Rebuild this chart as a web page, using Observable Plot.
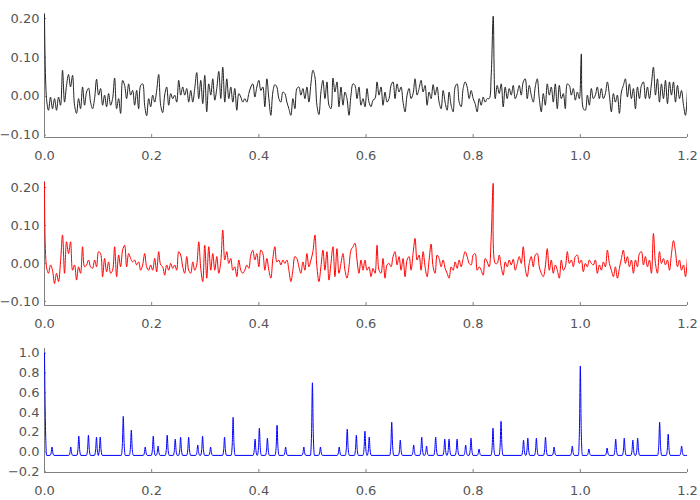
<!DOCTYPE html>
<html><head><meta charset="utf-8">
<script src="https://cdn.jsdelivr.net/npm/d3@7"></script>
<script src="https://cdn.jsdelivr.net/npm/@observablehq/plot@0.6"></script>
<style>
body{margin:0;background:#fff;}
#chart svg{display:block;}
</style></head><body><div id="chart"></div>
<script>
// x extent shared by all three panels
const xStart = 0, xEnd = 1.2;
const xTicks = [0, 0.2, 0.4, 0.6, 0.8, 1.0, 1.2];

// panel 1 (black) – evenly spaced samples over [0, 1.2]
const signalA = [
 0.210,-0.006,-0.036,-0.002,-0.032,-0.006,-0.036,-0.002,-0.023,0.067,
 -0.015,0.028,0.056,0.024,0.054,-0.023,-0.044,-0.006,-0.032,0.024,
 -0.023,0.011,0.021,-0.015,-0.032,-0.006,0.044,0.003,0.020,-0.023,
 0.003,-0.027,0.007,-0.023,-0.006,0.047,-0.032,-0.006,-0.044,0.041,
 0.028,-0.006,0.032,0.003,0.015,-0.023,0.015,-0.032,0.028,0.032,
 -0.023,-0.050,-0.006,-0.027,0.003,-0.015,0.015,0.056,-0.023,-0.042,
 0.003,0.024,-0.023,0.007,-0.006,0.003,-0.015,0.041,0.003,0.024,
 0.003,0.020,-0.015,0.015,-0.015,0.020,0.061,-0.006,0.041,-0.019,
 0.054,-0.040,0.032,0.003,0.045,-0.010,0.020,0.064,-0.006,0.075,
 -0.015,0.045,-0.006,0.024,-0.015,0.020,-0.036,0.007,
 -0.002,-0.015,-0.006,-0.015,0.007,0.024,0.032,-0.002,0.024,0.041,
 0.015,0.024,-0.027,0.045,-0.006,-0.049,0.011,0.030,0.024,-0.006,
 -0.015,0.011,0.007,-0.015,-0.032,-0.049,-0.006,-0.032,0.020,0.024,
 0.003,0.020,-0.006,0.024,-0.015,0.032,0.067,0.050,-0.023,-0.047,
 0.011,0.041,-0.006,0.037,-0.023,-0.032,0.047,0.011,0.037,-0.027,
 0.024,-0.023,0.011,-0.006,-0.049,0.003,0.032,0.028,-0.006,0.024,
 -0.023,-0.006,-0.027,0.020,-0.015,-0.027,-0.010,-0.006,0.037,0.003,
 0.024,-0.023,0.011,-0.015,-0.006,0.028,0.037,-0.006,0.032,0.011,
 0.024,-0.015,-0.040,0.003,0.020,-0.006,0.007,0.045,0.003,0.020,
 0.041,0.011,0.028,-0.023,0.011,-0.006,0.030,0.003,0.024,-0.015,
 -0.032,0.015,-0.015,-0.036,0.011,-0.023,-0.040,0.024,0.032,-0.015,
 -0.027,0.020,0.037,0.024,-0.006,
 0.015,-0.006,-0.019,-0.040,-0.006,-0.023,-0.002,-0.015,-0.006,-0.006,
 0.054,0.206,-0.006,0.028,0.007,0.032,-0.027,0.024,-0.006,0.020,
 0.003,0.028,-0.006,0.007,0.028,0.003,0.037,0.045,-0.006,0.028,
 0.003,-0.015,0.024,0.045,-0.006,-0.040,0.007,-0.023,0.032,0.003,
 0.024,-0.015,0.032,-0.032,0.028,-0.006,0.007,-0.032,0.032,0.028,
 0.003,0.020,-0.010,0.011,-0.006,0.109,-0.032,-0.036,0.003,-0.023,
 0.020,-0.006,0.003,0.024,-0.006,0.020,-0.006,0.007,0.037,0.003,
 -0.040,0.007,-0.015,0.003,-0.044,0.011,0.028,0.045,-0.002,0.032,
 -0.006,0.020,-0.032,0.024,-0.006,0.028,0.037,-0.006,0.024,-0.006,
 0.032,0.075,0.003,0.045,-0.015,0.032,-0.006,0.041,-0.019,0.037,
 0.003,0.037,-0.015,0.028,-0.006,0.015,-0.023,-0.049,0.020
];

// panel 2 (red) – evenly spaced samples over [0, 1.2]
const signalB = [
 0.213,-0.009,-0.026,-0.004,-0.018,-0.053,-0.026,-0.048,0.004,0.075,
 -0.026,0.057,0.026,0.057,-0.018,-0.004,-0.044,-0.009,-0.026,0.044,
 -0.009,-0.004,0.009,-0.009,-0.013,0.009,-0.009,0.031,0.026,-0.035,
 0.013,-0.022,0.004,-0.026,-0.018,0.044,-0.035,0.022,-0.009,0.035,
 0.048,-0.009,0.026,0.013,0.004,0.009,-0.004,0.004,-0.018,-0.004,
 0.026,-0.009,-0.018,-0.004,-0.018,0.013,-0.022,0.031,-0.004,-0.009,
 -0.031,-0.004,-0.018,0.000,-0.013,-0.004,-0.018,0.031,0.022,-0.009,
 -0.026,0.018,-0.018,-0.026,0.004,-0.018,-0.004,0.057,-0.013,-0.048,
 0.048,-0.039,0.044,-0.018,0.026,-0.018,0.018,-0.026,0.004,0.088,
 0.009,0.031,0.000,0.013,-0.018,-0.009,-0.035,0.009,
 -0.018,-0.026,-0.018,-0.004,-0.013,0.022,0.035,0.009,0.026,-0.009,
 0.035,0.026,-0.018,0.013,-0.018,-0.039,0.013,0.044,0.004,0.009,
 -0.004,0.009,0.000,0.009,-0.018,-0.048,-0.018,0.018,0.013,-0.009,
 -0.026,0.004,-0.018,0.026,-0.009,0.009,0.031,0.075,-0.009,-0.048,
 -0.009,0.035,-0.018,0.031,-0.044,0.000,0.044,-0.035,0.039,-0.026,
 0.000,0.026,-0.018,-0.039,-0.009,0.035,0.044,0.053,0.009,-0.026,
 0.009,-0.018,0.009,-0.018,-0.009,-0.035,-0.013,-0.026,0.048,-0.018,
 -0.026,0.013,-0.039,-0.004,0.000,-0.009,0.018,0.031,-0.004,0.018,
 -0.018,0.013,-0.035,0.009,0.018,-0.018,0.026,0.066,0.009,0.022,
 -0.018,0.031,-0.009,-0.035,0.009,0.051,-0.009,-0.026,0.022,0.013,
 -0.009,0.009,-0.013,-0.026,-0.039,-0.009,-0.018,0.004,-0.013,0.009,
 -0.009,0.013,0.031,0.018,0.000,
 -0.004,0.022,0.026,-0.018,-0.009,-0.018,-0.031,0.013,0.004,-0.009,
 0.070,0.211,0.000,0.000,0.022,-0.009,-0.031,0.004,-0.009,0.009,
 -0.004,0.011,-0.018,0.000,0.018,0.000,0.044,-0.013,-0.035,0.000,
 0.018,-0.009,0.022,0.026,-0.009,-0.026,-0.035,-0.009,0.039,-0.018,
 0.009,-0.026,-0.004,-0.018,-0.039,0.009,-0.018,-0.009,0.031,0.000,
 0.009,-0.009,0.018,0.022,0.000,0.009,-0.022,0.000,-0.009,0.009,
 0.000,-0.004,0.009,-0.026,-0.004,-0.018,0.004,-0.009,0.035,0.000,
 -0.018,-0.035,-0.009,-0.039,-0.013,0.013,0.035,0.000,0.018,-0.009,
 0.009,-0.026,0.009,-0.009,0.026,0.031,-0.004,0.018,-0.009,0.009,
 -0.026,0.079,0.000,-0.026,0.031,0.000,0.013,-0.004,0.009,-0.018,
 0.026,0.060,0.031,-0.009,0.009,-0.018,-0.004,-0.035,0.018
];

// panel 3 (blue) – spike train: start value, baseline, peak positions and heights
const spikeStart = 1.0;
const spikeBase = -0.035;
const peakX = [0.014,0.049,0.064,0.082,0.097,0.104,0.147,0.162,0.188,0.203,0.212,0.229,0.244,0.254,0.269,0.286,0.295,0.310,0.336,0.352,
 0.393,0.401,0.416,0.434,0.450,0.484,0.500,0.515,0.550,0.565,0.582,0.598,0.606,0.648,0.664,0.689,0.704,0.713,0.730,0.747,0.755,0.770,0.786,0.796,
 0.811,0.837,0.852,0.894,0.902,0.918,0.935,0.951,0.985,1.000,1.016,1.050,1.066,1.082,1.098,1.107,1.148,1.164,1.189];
const peakY = [0.05,0.05,0.16,0.17,0.15,0.15,0.36,0.22,0.05,0.16,0.06,0.17,0.13,0.15,0.15,0.07,0.16,0.05,0.15,0.35,
 0.13,0.24,0.14,0.27,0.05,0.05,0.70,0.05,0.05,0.23,0.17,0.21,0.15,0.30,0.12,0.07,0.15,0.06,0.15,0.13,0.13,0.13,0.07,0.14,
 0.03,0.24,0.31,0.12,0.14,0.14,0.15,0.05,0.06,0.87,0.03,0.04,0.13,0.14,0.12,0.14,0.30,0.18,0.06];

const yTicksAB = [-0.1, 0, 0.1, 0.2];
const yTicksC = [-0.2, 0, 0.2, 0.4, 0.6, 0.8, 1.0];

// build tables
const toSeries = arr => arr.map((y, i) => ({x: xStart + i * (xEnd - xStart) / (arr.length - 1), y}));
const seriesA = toSeries(signalA);
const seriesB = toSeries(signalB);
const seriesC = [{x: xStart, y: spikeStart}, {x: xStart + 0.0015, y: 0.35}, {x: xStart + 0.004, y: spikeBase}];
peakX.forEach((px, k) => {
  const h = peakY[k], mid = spikeBase + (h - spikeBase) * 0.3;
  seriesC.push({x: px - 0.0038, y: spikeBase}, {x: px - 0.0016, y: mid}, {x: px, y: h},
               {x: px + 0.0016, y: mid}, {x: px + 0.0038, y: spikeBase});
});
seriesC.push({x: xEnd, y: spikeBase});

const axisGray = "#808080";
function panel({data, color, yDomain, yTicks, yFormat, height, marginBottom, curve}) {
  return Plot.plot({
    width: 700, height, marginTop: 13, marginBottom, marginLeft: 44, marginRight: 13,
    style: {fontFamily: "DejaVu Sans", fontSize: "13px", color: "#555", background: "#fff"},
    x: {domain: [xStart, xEnd], label: null},
    y: {domain: yDomain, label: null},
    marks: [
      Plot.ruleX([xStart], {stroke: axisGray}),
      Plot.ruleY([yDomain[0]], {stroke: axisGray}),
      Plot.axisX(xTicks, {tickSize: 0, tickPadding: 13, tickFormat: d3.format(".1f"), label: null}),
      Plot.axisX(xTicks, {tickSize: -3, tickFormat: () => "", stroke: axisGray, label: null}),
      Plot.axisY(yTicks, {tickSize: 0, tickPadding: 5, tickFormat: d3.format(yFormat), label: null}),
      Plot.axisY(yTicks, {tickSize: -2, tickFormat: () => "", stroke: axisGray, label: null}),
      Plot.line(data, {x: "x", y: "y", stroke: color, strokeWidth: 1, curve, clip: true})
    ]
  });
}

const root = document.getElementById("chart");
root.append(panel({data: seriesA, color: "#222", yDomain: [-0.106, 0.213], yTicks: yTicksAB, yFormat: ".2f", height: 168, marginBottom: 31, curve: "catmull-rom"}));
root.append(panel({data: seriesB, color: "#ff0000", yDomain: [-0.111, 0.216], yTicks: yTicksAB, yFormat: ".2f", height: 167, marginBottom: 30, curve: "catmull-rom"}));
root.append(panel({data: seriesC, color: "#0000ff", yDomain: [-0.208, 1.047], yTicks: yTicksC, yFormat: ".1f", height: 165, marginBottom: 28, curve: "monotone-x"}));
</script></body></html>
